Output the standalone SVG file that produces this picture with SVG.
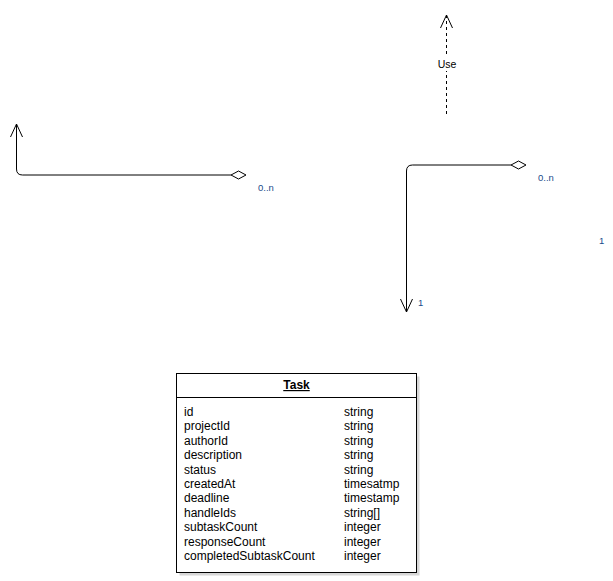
<svg xmlns="http://www.w3.org/2000/svg" width="613" height="581" viewBox="0 0 613 581">
<style>
.edge{fill:none;stroke:#000;stroke-width:1}
.head{fill:none;stroke:#000;stroke-width:1}
.dia{fill:#fff;stroke:#000;stroke-width:1}
.lbl{font-family:"Liberation Sans",Arial,sans-serif;font-size:9.5px;fill:#1a4b8a}
.use{font-family:"Liberation Sans",Arial,sans-serif;font-size:10.5px;fill:#000}
.t{font-family:"Liberation Sans",Arial,sans-serif;font-size:12px;fill:#000}
.title{font-family:"Liberation Sans",Arial,sans-serif;font-size:12px;font-weight:bold;text-decoration:underline;fill:#000}
</style>
<rect width="613" height="581" fill="#fff"/>
<g id="connectors">
  <g id="edge-left">
    <path class="edge" d="M16.5 124 V169 Q16.5 175 22.5 175 H231"/>
    <path class="head" d="M10.5 137 L16.5 124 L22.5 137"/>
    <path class="dia" d="M231 175 L238.5 171 L246 175 L238.5 179 Z"/>
    <text class="lbl" x="258" y="191">0..n</text>
  </g>
  <g id="edge-use">
    <path class="edge" d="M446.5 15 V116" stroke-dasharray="3 3"/>
    <path class="head" d="M440.5 28 L446.5 15 L452.5 28"/>
    <rect x="435" y="57" width="24" height="14" fill="#fff"/>
    <text class="use" x="447" y="68" text-anchor="middle">Use</text>
  </g>
  <g id="edge-right">
    <path class="edge" d="M511 165 H412.5 Q406.5 165 406.5 171 V312"/>
    <path class="head" d="M400.5 299 L406.5 312 L412.5 299"/>
    <path class="dia" d="M511 165 L518.5 161 L526 165 L518.5 169 Z"/>
    <text class="lbl" x="538" y="181">0..n</text>
    <text class="lbl" x="599" y="244">1</text>
    <text class="lbl" x="418" y="306">1</text>
  </g>
</g>
<g id="node-task">
  <rect x="179.5" y="376.5" width="240" height="199" fill="#bdbdbd" opacity="0.6"/>
  <rect x="176.5" y="373.5" width="240" height="199" fill="#fff" stroke="#000"/>
  <line x1="176.5" y1="397.5" x2="416.5" y2="397.5" stroke="#000"/>
  <text class="title" x="296.5" y="389" text-anchor="middle">Task</text>
  <g class="t">
    <text x="184" y="416">id</text>
    <text x="184" y="430.4">projectId</text>
    <text x="184" y="444.8">authorId</text>
    <text x="184" y="459.2">description</text>
    <text x="184" y="473.6">status</text>
    <text x="184" y="488">createdAt</text>
    <text x="184" y="502.4">deadline</text>
    <text x="184" y="516.8">handleIds</text>
    <text x="184" y="531.2">subtaskCount</text>
    <text x="184" y="545.6">responseCount</text>
    <text x="184" y="560">completedSubtaskCount</text>
    <text x="344" y="416">string</text>
    <text x="344" y="430.4">string</text>
    <text x="344" y="444.8">string</text>
    <text x="344" y="459.2">string</text>
    <text x="344" y="473.6">string</text>
    <text x="344" y="488">timesatmp</text>
    <text x="344" y="502.4">timestamp</text>
    <text x="344" y="516.8">string[]</text>
    <text x="344" y="531.2">integer</text>
    <text x="344" y="545.6">integer</text>
    <text x="344" y="560">integer</text>
  </g>
</g>
</svg>
